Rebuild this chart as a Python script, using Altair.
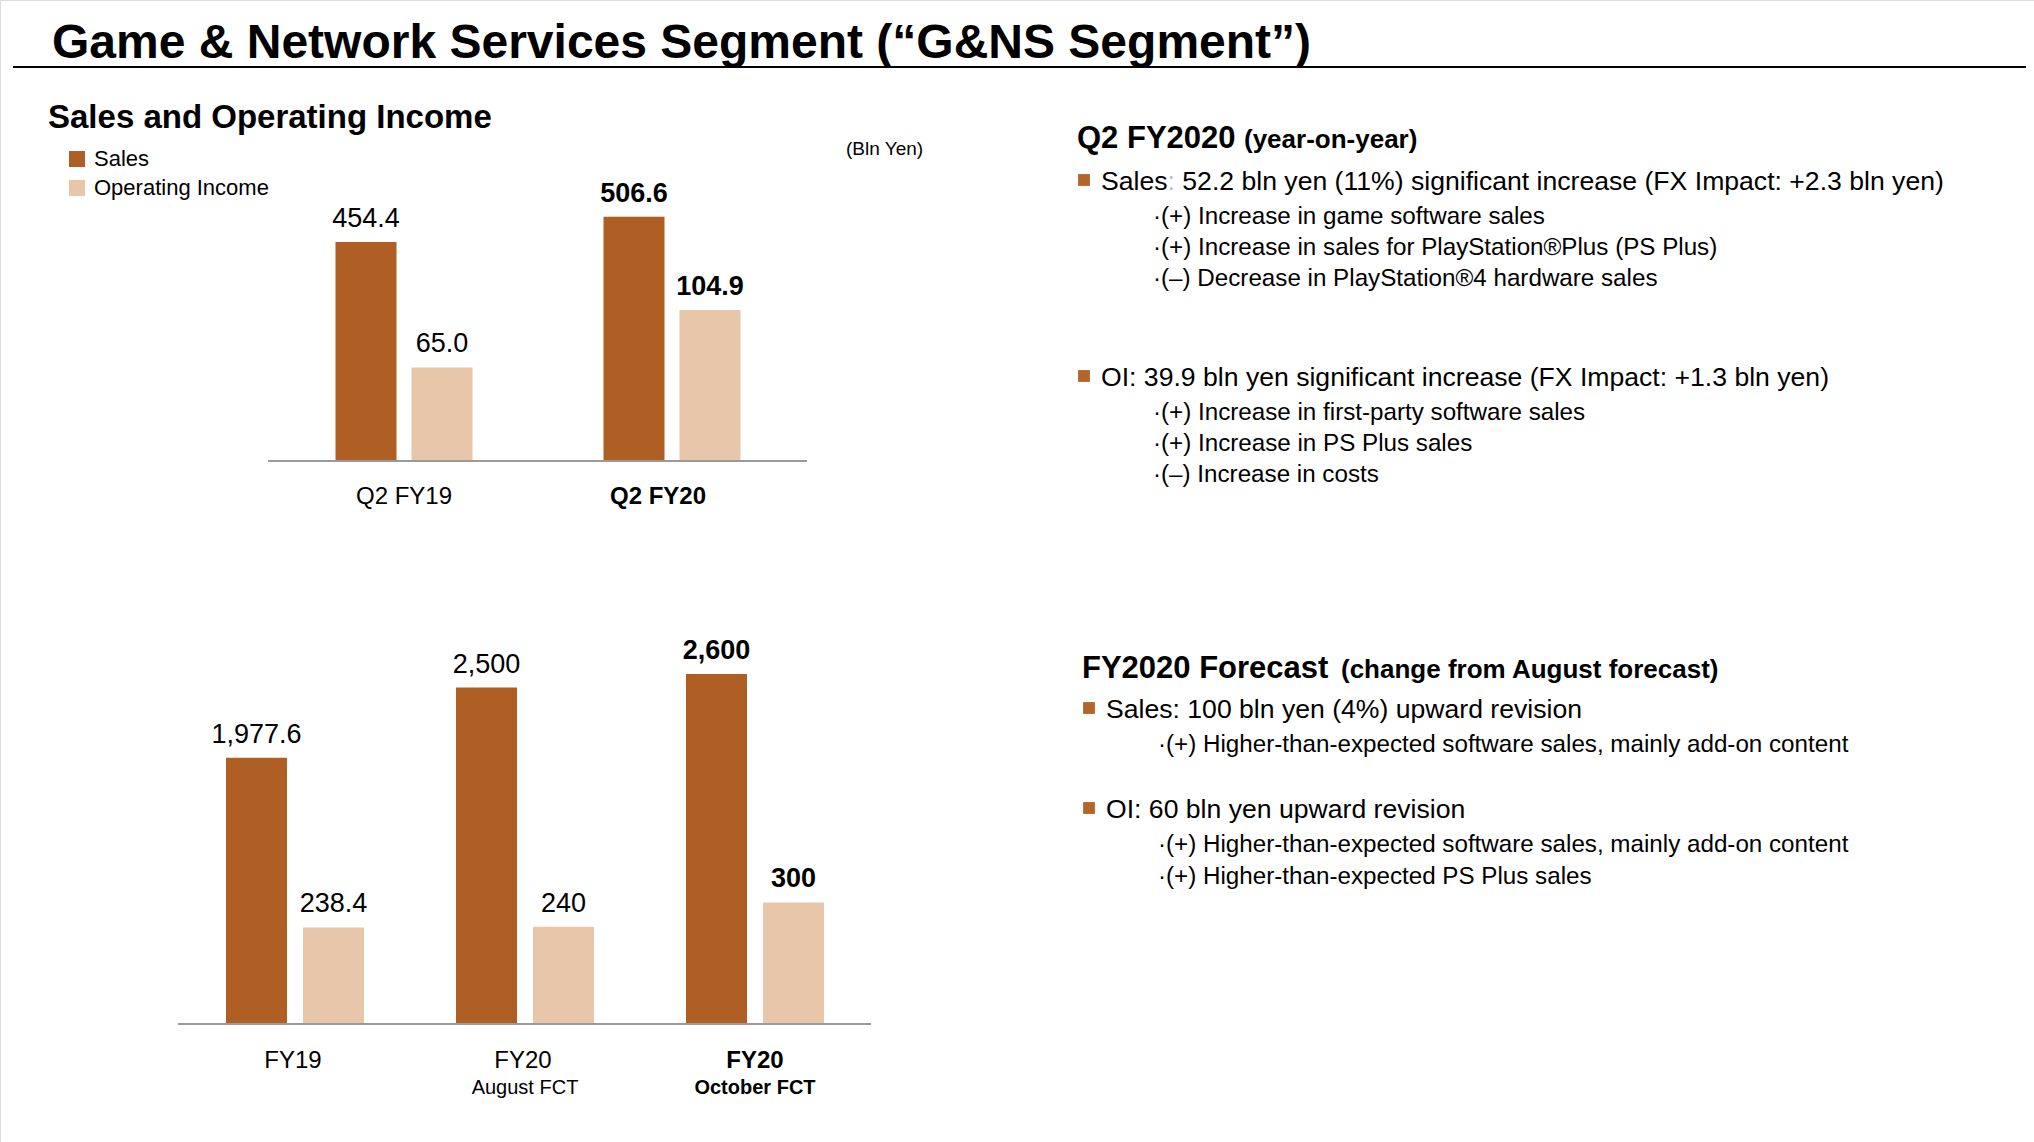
import altair as alt
import pandas as pd

FONT = "Liberation Sans, Arial, Helvetica, sans-serif"
BROWN = "#AF5F24"
BEIGE = "#E8C6A9"
BULLET = "#B5642A"
W, H = 2034, 1142

# ---------------- data ----------------
series_names = ["Sales", "Operating Income"]
series_colors = [BROWN, BEIGE]

q_categories = ["Q2 FY19", "Q2 FY20"]
q_line1 = ["Q2 FY19", "Q2 FY20"]
q_line2 = ["", ""]
q_sales = [454.4, 506.6]
q_oi = [65.0, 104.9]
q_bold = [False, True]

fy_categories = ["FY19", "FY20 August FCT", "FY20 October FCT"]
fy_line1 = ["FY19", "FY20", "FY20"]
fy_line2 = ["", "August FCT", "October FCT"]
fy_sales = [1977.6, 2500, 2600]
fy_oi = [238.4, 240, 300]
fy_bold = [False, False, True]

title_text = "Game & Network Services Segment (\u201cG&NS Segment\u201d)"
subtitle_text = "Sales and Operating Income"
unit_text = "(Bln Yen)"

q2_head = ["Q2 FY2020", "(year-on-year)"]
q2_sales_head = ["Sales", ":", "52.2 bln yen (11%) significant increase (FX Impact: +2.3 bln yen)"]
q2_sales_points = ["\u00b7(+) Increase in game software sales",
                   "\u00b7(+) Increase in sales for PlayStation\u00aePlus (PS Plus)",
                   "\u00b7(\u2013) Decrease in PlayStation\u00ae4 hardware sales"]
q2_oi_head = "OI: 39.9 bln yen significant increase (FX Impact: +1.3 bln yen)"
q2_oi_points = ["\u00b7(+) Increase in first-party software sales",
                "\u00b7(+) Increase in PS Plus sales",
                "\u00b7(\u2013) Increase in costs"]

fc_head = ["FY2020 Forecast", "(change from August forecast)"]
fc_sales_head = "Sales: 100 bln yen (4%) upward revision"
fc_sales_points = ["\u00b7(+) Higher-than-expected software sales, mainly add-on content"]
fc_oi_head = "OI: 60 bln yen upward revision"
fc_oi_points = ["\u00b7(+) Higher-than-expected software sales, mainly add-on content",
                "\u00b7(+) Higher-than-expected PS Plus sales"]


def long_df(cats, sales, oi, bold):
    rows = []
    for c, s, o, b in zip(cats, sales, oi, bold):
        rows.append({"cat": c, "series": "Sales", "value": s, "bold": b})
        rows.append({"cat": c, "series": "Operating Income", "value": o, "bold": b})
    return pd.DataFrame(rows)


def cat_df(cats, l1, l2, bold):
    return pd.DataFrame({"cat": cats, "line1": l1, "line2": l2, "bold": bold})


LEGEND = alt.Legend(orient="none", legendX=66, legendY=148, title=None,
                    symbolType="square", symbolSize=256, symbolStrokeWidth=0,
                    symbolOpacity=1, labelFont=FONT, labelFontSize=22,
                    labelColor="black", labelOffset=6, rowPadding=7, padding=0,
                    labelLimit=0, direction="vertical")


def bar_chart_layers(df, cdf, cats, g):
    def xenc():
        return alt.X("cat:N", scale=alt.Scale(type="band", domain=cats, range=g["xr"],
                                              paddingInner=0, paddingOuter=0),
                     axis=None)

    def xoff():
        return alt.XOffset("series:N", scale=alt.Scale(type="band", domain=series_names,
                                                       paddingInner=g["pin"],
                                                       paddingOuter=g["pout"]))

    def yenc(dmax):
        return alt.Y("value:Q", scale=alt.Scale(domain=[0, dmax], range=[g["base"], 0],
                                                nice=False, zero=True), axis=None)

    color = alt.Color("series:N", scale=alt.Scale(domain=series_names, range=series_colors),
                      legend=LEGEND)
    layers = []
    for ser, dmax in [("Sales", g["ds"]), ("Operating Income", g["do"])]:
        bars = alt.Chart(df).transform_filter(alt.datum.series == ser).mark_bar().encode(
            x=xenc(), xOffset=xoff(), y=yenc(dmax), color=color)
        layers.append(bars)
        for bold in (False, True):
            t = alt.Chart(df).transform_filter(
                (alt.datum.series == ser) & (alt.datum.bold == bold)
            ).transform_calculate(label=g["fmt"]).mark_text(
                font=FONT, fontSize=27, fontWeight="bold" if bold else "normal",
                baseline="alphabetic", dy=-15, color="black"
            ).encode(x=xenc(), xOffset=xoff(), y=yenc(dmax), text="label:N")
            layers.append(t)
    # baseline (zero line of the sales scale)
    layers.append(alt.Chart(pd.DataFrame({"z": [0]})).mark_rule(
        color="#9A9A9A", strokeWidth=2
    ).encode(x=alt.value(g["xr"][0] - 2), x2=alt.value(g["xr"][1] + 1),
             y=alt.Y("z:Q", scale=alt.Scale(domain=[0, g["ds"]], range=[g["base"], 0],
                                            nice=False), axis=None)))
    # category labels
    for bold in (False, True):
        l1 = alt.Chart(cdf).transform_filter(alt.datum.bold == bold).mark_text(
            font=FONT, fontSize=24, fontWeight="bold" if bold else "normal",
            baseline="alphabetic", color="black", dx=g["bold_dx"] if bold else g["norm_dx"]
        ).encode(x=xenc(), y=alt.value(g["l1"]), text="line1:N")
        l2 = alt.Chart(cdf).transform_filter(alt.datum.bold == bold).mark_text(
            font=FONT, fontSize=20, fontWeight="bold" if bold else "normal",
            baseline="alphabetic", color="black"
        ).encode(x=xenc(), y=alt.value(g["l2"]), text="line2:N")
        layers += [l1, l2]
    return layers


top_geom = dict(xr=[270, 806], base=461, ds=956.4, do=320.1, pin=0.197, pout=0.862,
                fmt="format(datum.value, '.1f')", l1=504, l2=530, bold_dx=-14, norm_dx=0)
bot_geom = dict(xr=[180, 870], base=1024, ds=7608, do=2528, pin=0.208, pout=0.597,
                fmt="datum.value % 1 ? format(datum.value, ',.1f') : format(datum.value, ',.0f')",
                l1=1068, l2=1094, bold_dx=0, norm_dx=-2)

layers = []
layers += bar_chart_layers(long_df(q_categories, q_sales, q_oi, q_bold),
                           cat_df(q_categories, q_line1, q_line2, q_bold),
                           q_categories, top_geom)
layers += bar_chart_layers(long_df(fy_categories, fy_sales, fy_oi, fy_bold),
                           cat_df(fy_categories, fy_line1, fy_line2, fy_bold),
                           fy_categories, bot_geom)


def txt(text, x, y, size, weight="normal", color="black"):
    return alt.Chart(pd.DataFrame({"t": [text]})).mark_text(
        font=FONT, fontSize=size, fontWeight=weight, color=color,
        align="left", baseline="alphabetic"
    ).encode(x=alt.value(x), y=alt.value(y), text="t:N")


def square(x, y):
    return alt.Chart(pd.DataFrame({"t": [0]})).mark_square(
        size=140, color=BULLET, opacity=1
    ).encode(x=alt.value(x), y=alt.value(y))


# header
layers.append(txt(title_text, 52, 58, 48, "bold"))
layers.append(alt.Chart(pd.DataFrame({"t": [0]})).mark_rule(color="black", strokeWidth=2).encode(
    x=alt.value(13), x2=alt.value(2026), y=alt.value(67)))
layers.append(txt(subtitle_text, 48, 128, 33, "bold"))
layers.append(txt(unit_text, 846, 155, 19))

# right panel
BODY = 26.6
SUB = 24.2
layers.append(txt(q2_head[0], 1077, 148, 31, "bold"))
layers.append(txt(q2_head[1], 1244, 148, 26, "bold"))
layers.append(square(1084, 180))
# "Sales" + light-grey colon + rest (Arial metrics: Sales = 2.501 em, colon = 0.278 em, space = 0.278 em)
layers.append(txt(q2_sales_head[0], 1101, 189.5, BODY))
layers.append(txt(q2_sales_head[1], 1101 + 2.501 * BODY, 189.5, BODY, color="#BDBDBD"))
layers.append(txt(q2_sales_head[2], 1101 + 3.057 * BODY, 189.5, BODY))
for i, s in enumerate(q2_sales_points):
    layers.append(txt(s, 1153, 224 + 31 * i, SUB))
layers.append(square(1084, 376))
layers.append(txt(q2_oi_head, 1101, 385.5, BODY))
for i, s in enumerate(q2_oi_points):
    layers.append(txt(s, 1153, 420 + 31 * i, SUB))

layers.append(txt(fc_head[0], 1082, 678, 31, "bold"))
layers.append(txt(fc_head[1], 1341, 678, 26, "bold"))
layers.append(square(1089, 708))
layers.append(txt(fc_sales_head, 1106, 717.5, BODY))
for i, s in enumerate(fc_sales_points):
    layers.append(txt(s, 1158, 752 + 32 * i, SUB))
layers.append(square(1089, 808))
layers.append(txt(fc_oi_head, 1106, 817.5, BODY))
for i, s in enumerate(fc_oi_points):
    layers.append(txt(s, 1158, 852 + 32 * i, SUB))

chart = alt.layer(*layers).resolve_scale(
    x="independent", y="independent", xOffset="independent"
).properties(
    width=W, height=H, autosize=alt.AutoSizeParams(type="none"), padding=0
).configure_view(stroke=None).configure(background="white")

chart.save("out.html", embed_options={"renderer": "svg", "actions": False})
